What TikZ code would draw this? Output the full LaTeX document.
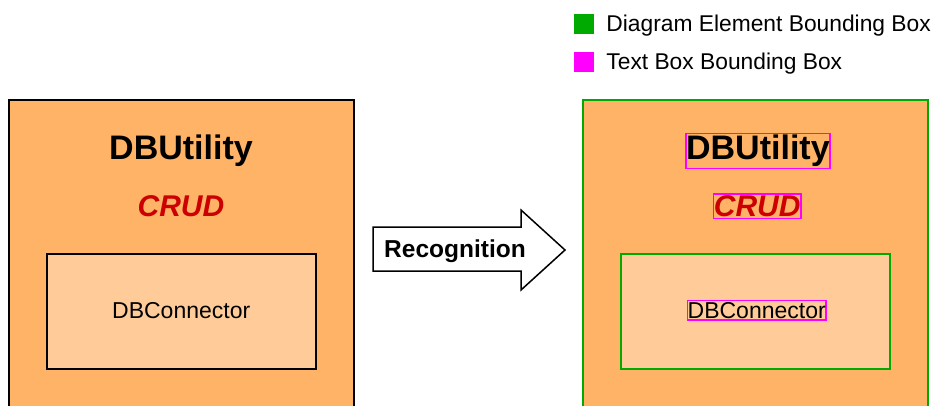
\documentclass[tikz,border=0pt]{standalone}
\usepackage{fontspec}
\setmainfont{Liberation Sans}
\usetikzlibrary{positioning}

\definecolor{utilorange}{HTML}{FFB366}
\definecolor{connorange}{HTML}{FFCC99}
\definecolor{crudred}{HTML}{CC0000}
\definecolor{elemgreen}{HTML}{00AA00}
\definecolor{textmagenta}{HTML}{FF00FF}

\begin{document}
\begin{tikzpicture}[
    x=1pt, y=-1pt,
    outerbox/.style={rectangle, fill=utilorange, line width=1.6pt,
                minimum width=345pt, minimum height=330pt, inner sep=0pt},
    innerbox/.style={rectangle, fill=connorange, line width=1.6pt,
                minimum width=269pt, minimum height=115pt, inner sep=0pt},
    utiltext/.style={inner sep=0pt, font=\bfseries\fontsize{34}{39}\selectfont},
    crudtext/.style={inner sep=0pt, text=crudred,
                font=\bfseries\itshape\fontsize{30}{35}\selectfont},
    conntext/.style={inner sep=0pt, font=\fontsize{23}{27}\selectfont},
    tbox/.style={draw=textmagenta, line width=1.6pt},
    legsq/.style={rectangle, minimum size=20pt, inner sep=0pt},
    legtext/.style={inner sep=0pt, yshift=-1.5pt, font=\fontsize{22.8}{27}\selectfont}
  ]
    \clip (0,0) rectangle (934,405);

    % legend
    \node[legsq, fill=elemgreen] (legelem) at (584,24) {};
    \node[legsq, fill=textmagenta] (legtbox) at (584,61.7) {};
    \node[legtext, right=12pt of legelem] (legelemtxt) {Diagram Element Bounding Box};
    \node[legtext, right=12pt of legtbox] (legtboxtxt) {Text Box Bounding Box};

    % original diagram
    \node[outerbox, draw=black] (util) at (181.3,265) {};
    \node[utiltext] (utilname) at (181,150.8) {DBUtility};
    \node[crudtext] (crud) at (181,206.3) {CRUD};
    \node[innerbox, draw=black] (conn) at (181.2,311.2) {};
    \node[conntext] (connname) at (181.2,310.3) {DBConnector};

    % recognition arrow
    \draw[line width=1.5pt, fill=white]
      (373,227) -- (521,227) -- (521,210) -- (565,250)
      -- (521,290) -- (521,271) -- (373,271) -- cycle;
    \node[inner sep=0pt, font=\bfseries\fontsize{24.5}{29}\selectfont]
      (recog) at (455,251.5) {Recognition};

    % recognised diagram
    \node[outerbox, draw=elemgreen, line width=2pt] (rutil) at (755.5,265) {};
    \node[innerbox, draw=elemgreen, line width=2pt] (rconn) at (755.8,311) {};
    \node[utiltext, tbox, minimum width=144.3pt, minimum height=35pt]
      (rutilname) at (757.9,150.8) {DBUtility};
    \node[crudtext, tbox, minimum width=87.7pt, minimum height=24.7pt]
      (rcrud) at (757.2,206.3) {CRUD};
    \node[conntext, tbox, minimum width=138.7pt, minimum height=19.3pt]
      (rconnname) at (756.7,310.3) {DBConnector};
  \end{tikzpicture}
\end{document}
